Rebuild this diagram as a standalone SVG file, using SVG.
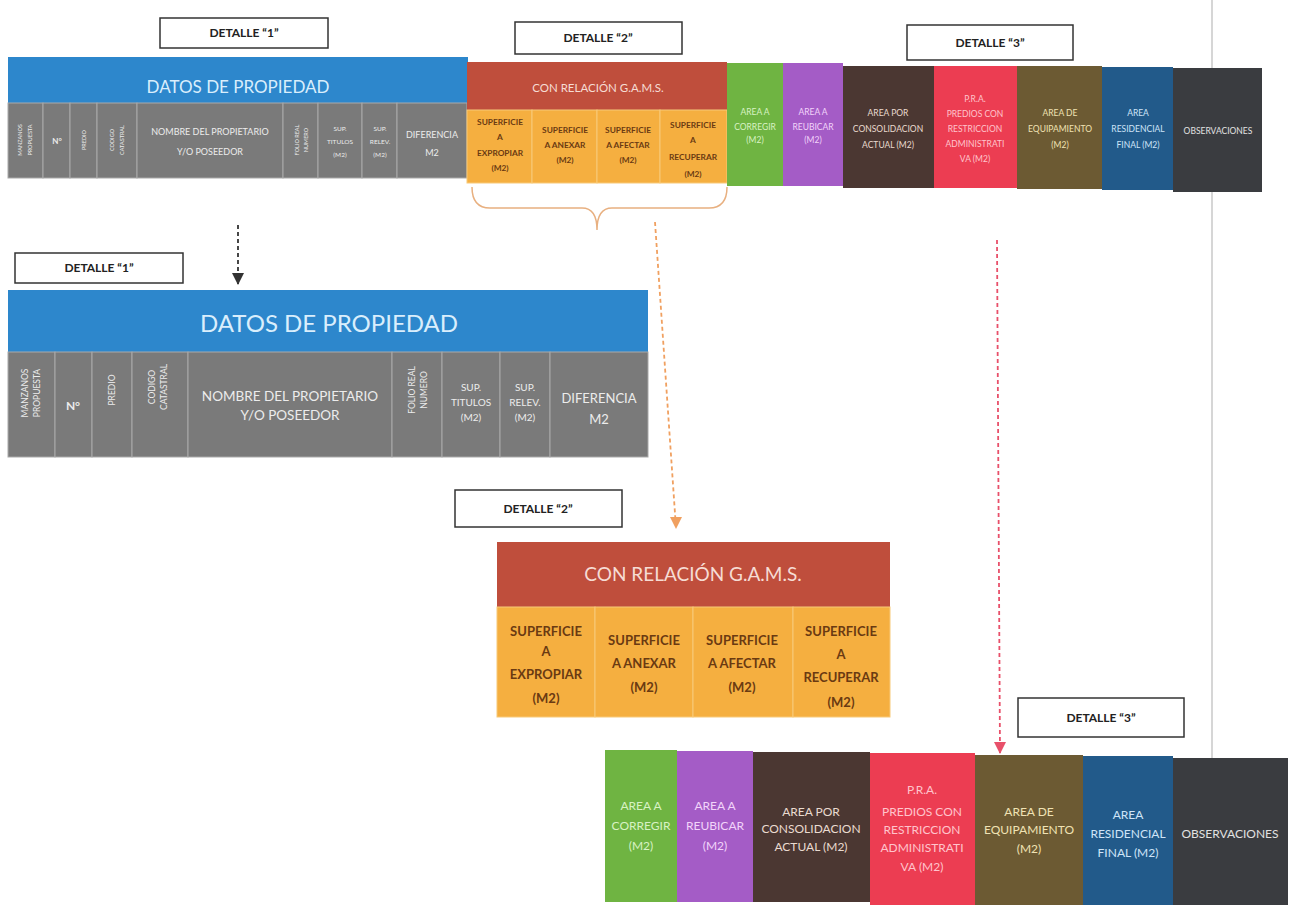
<svg xmlns="http://www.w3.org/2000/svg" width="1298" height="905" viewBox="0 0 1298 905">
<defs>
<style>
text{font-family:Lato,"Open Sans","Liberation Sans",sans-serif;text-anchor:middle}
.lbl{fill:#fff;stroke:#333;stroke-width:1.5}
.lblt{font-size:12px;fill:#222;font-weight:bold}
.blue{fill:#2d87cc}
.gray{fill:#7a7a7a;stroke:#a9a9a9;stroke-width:1}
.red{fill:#bf4e3c}
.org{fill:#f5af40;stroke:#f8c978;stroke-width:1}
.hdr{fill:#d9eefc}
.gt{fill:#ececec}
.ot{fill:#6a3a12;font-weight:bold}
.rt{fill:#f6dcd4}
</style>
<marker id="mk" markerWidth="12" markerHeight="12" refX="6" refY="11" markerUnits="userSpaceOnUse" viewBox="0 0 12 12"><path d="M0,0 L12,0 L6,12 Z" fill="#333"/></marker>
<marker id="mo" markerWidth="12" markerHeight="12" refX="6" refY="11" markerUnits="userSpaceOnUse" viewBox="0 0 12 12"><path d="M0,0 L12,0 L6,12 Z" fill="#f0a060"/></marker>
<marker id="mr" markerWidth="12" markerHeight="12" refX="6" refY="11" markerUnits="userSpaceOnUse" viewBox="0 0 12 12"><path d="M0,0 L12,0 L6,12 Z" fill="#e8506a"/></marker>
</defs>
<rect width="1298" height="905" fill="#fff"/>
<line x1="1212" y1="0" x2="1212" y2="905" stroke="#c8c8c8" stroke-width="1.5"/>

<!-- Labels -->
<g id="label-detalle1-top"><rect class="lbl" x="160" y="18" width="168" height="30"/><text class="lblt" x="244" y="37">DETALLE “1”</text></g>
<g id="label-detalle2-top"><rect class="lbl" x="515" y="22" width="167" height="32"/><text class="lblt" x="598" y="42">DETALLE “2”</text></g>
<g id="label-detalle3-top"><rect class="lbl" x="907" y="25" width="166" height="35"/><text class="lblt" x="990" y="47">DETALLE “3”</text></g>

<!-- Top table: Datos de propiedad -->
<g id="top-datos">
<rect class="blue" x="8" y="57" width="460" height="46"/>
<text class="hdr" x="238" y="93" font-size="17">DATOS DE PROPIEDAD</text>
<rect class="gray" x="8" y="103" width="35" height="75"/>
<rect class="gray" x="43" y="103" width="27" height="75"/>
<rect class="gray" x="70" y="103" width="27" height="75"/>
<rect class="gray" x="97" y="103" width="40" height="75"/>
<rect class="gray" x="137" y="103" width="146" height="75"/>
<rect class="gray" x="283" y="103" width="35" height="75"/>
<rect class="gray" x="318" y="103" width="44" height="75"/>
<rect class="gray" x="362" y="103" width="35" height="75"/>
<rect class="gray" x="397" y="103" width="70" height="75"/>
<g class="gt" font-size="5.5">
<text transform="rotate(-90 20 140)" x="20" y="142">MANZANOS</text>
<text transform="rotate(-90 30 140)" x="30" y="142">PROPUESTA</text>
<text transform="rotate(-90 84 140)" x="84" y="142">PREDIO</text>
<text transform="rotate(-90 112 140)" x="112" y="142">CODIGO</text>
<text transform="rotate(-90 122 140)" x="122" y="142">CATASTRAL</text>
<text transform="rotate(-90 297 140)" x="297" y="142">FOLIO REAL</text>
<text transform="rotate(-90 306 140)" x="306" y="142">NUMERO</text>
</g>
<text class="gt" x="57" y="144" font-size="8" font-weight="bold">N°</text>
<text class="gt" x="210" y="135" font-size="9">NOMBRE DEL PROPIETARIO</text>
<text class="gt" x="210" y="155" font-size="9">Y/O POSEEDOR</text>
<text class="gt" x="340" y="131" font-size="6.5">SUP.</text>
<text class="gt" x="340" y="144" font-size="6.5">TITULOS</text>
<text class="gt" x="340" y="157" font-size="6.5">(M2)</text>
<text class="gt" x="380" y="131" font-size="6.5">SUP.</text>
<text class="gt" x="380" y="144" font-size="6.5">RELEV.</text>
<text class="gt" x="380" y="157" font-size="6.5">(M2)</text>
<text class="gt" x="432" y="138" font-size="9">DIFERENCIA</text>
<text class="gt" x="432" y="156" font-size="9">M2</text>
</g>

<!-- Top table: Con relacion GAMS -->
<g id="top-gams">
<rect class="red" x="467" y="62" width="260" height="48"/>
<text class="rt" x="598" y="92" font-size="11.5">CON RELACIÓN G.A.M.S.</text>
<rect class="org" x="467" y="110" width="65" height="73"/>
<rect class="org" x="532" y="110" width="65" height="73"/>
<rect class="org" x="597" y="110" width="63" height="73"/>
<rect class="org" x="660" y="110" width="67" height="73"/>
<g class="ot" font-size="8.3">
<text x="500" y="125">SUPERFICIE</text><text x="500" y="140">A</text><text x="500" y="156">EXPROPIAR</text><text x="500" y="171">(M2)</text>
<text x="565" y="133">SUPERFICIE</text><text x="565" y="148">A ANEXAR</text><text x="565" y="163">(M2)</text>
<text x="628" y="133">SUPERFICIE</text><text x="628" y="148">A AFECTAR</text><text x="628" y="163">(M2)</text>
<text x="693" y="128">SUPERFICIE</text><text x="693" y="143">A</text><text x="693" y="160">RECUPERAR</text><text x="693" y="177">(M2)</text>
</g>
</g>

<!-- Top table: remaining columns -->
<g id="top-areas" font-size="8.5">
<rect x="727" y="63" width="56" height="123" fill="#6fb442"/>
<text x="755" y="115" fill="#d8f2c4">AREA A</text><text x="755" y="130" fill="#d8f2c4">CORREGIR</text><text x="755" y="143" fill="#d8f2c4">(M2)</text>
<rect x="783" y="63" width="60" height="123" fill="#a45cc6"/>
<text x="813" y="115" fill="#f2d4fa">AREA A</text><text x="813" y="130" fill="#f2d4fa">REUBICAR</text><text x="813" y="143" fill="#f2d4fa">(M2)</text>
<rect x="843" y="66" width="91" height="122" fill="#4b3732"/>
<text x="888" y="116" fill="#eadbd0">AREA POR</text><text x="888" y="132" fill="#eadbd0">CONSOLIDACION</text><text x="888" y="148" fill="#eadbd0">ACTUAL (M2)</text>
<rect x="934" y="66" width="83" height="122" fill="#ec3d52"/>
<text x="975" y="102" fill="#ffc4cc">P.R.A.</text><text x="975" y="117" fill="#ffc4cc">PREDIOS CON</text><text x="975" y="132" fill="#ffc4cc">RESTRICCION</text><text x="975" y="147" fill="#ffc4cc">ADMINISTRATI</text><text x="975" y="162" fill="#ffc4cc">VA (M2)</text>
<rect x="1017" y="66" width="85" height="123" fill="#6c5a33"/>
<text x="1060" y="116" fill="#f0e2b4">AREA DE</text><text x="1060" y="132" fill="#f0e2b4">EQUIPAMIENTO</text><text x="1060" y="148" fill="#f0e2b4">(M2)</text>
<rect x="1102" y="67" width="71" height="123" fill="#225a8a"/>
<text x="1138" y="116" fill="#cfe4f8">AREA</text><text x="1138" y="132" fill="#cfe4f8">RESIDENCIAL</text><text x="1138" y="148" fill="#cfe4f8">FINAL (M2)</text>
<rect x="1173" y="68" width="89" height="124" fill="#3a3c40"/>
<text x="1218" y="134" fill="#e2e2e2">OBSERVACIONES</text>
</g>

<!-- Connectors -->
<g id="connectors" fill="none">
<path d="M472,187 Q472,208 490,208 L582,208 Q597,208 597,230 Q597,208 612,208 L709,208 Q727,208 727,187" stroke="#e8b080" stroke-width="1.5"/>
<line x1="238" y1="225" x2="238" y2="284" stroke="#333" stroke-width="1.8" stroke-dasharray="4,3" marker-end="url(#mk)"/>
<line x1="655" y1="222" x2="676" y2="528" stroke="#f0a060" stroke-width="1.8" stroke-dasharray="4,3" marker-end="url(#mo)"/>
<line x1="997" y1="240" x2="1000" y2="753" stroke="#e8506a" stroke-width="1.8" stroke-dasharray="4,3" marker-end="url(#mr)"/>
</g>

<g id="label-detalle1"><rect class="lbl" x="15" y="253" width="168" height="30"/><text class="lblt" x="99" y="272">DETALLE “1”</text></g>

<!-- Detail 1 -->
<g id="detalle1">
<rect class="blue" x="8" y="290" width="640" height="62"/>
<text class="hdr" x="329" y="332" font-size="24">DATOS DE PROPIEDAD</text>
<rect class="gray" x="8" y="352" width="47" height="105"/>
<rect class="gray" x="55" y="352" width="37" height="105"/>
<rect class="gray" x="92" y="352" width="40" height="105"/>
<rect class="gray" x="132" y="352" width="56" height="105"/>
<rect class="gray" x="188" y="352" width="204" height="105"/>
<rect class="gray" x="392" y="352" width="50" height="105"/>
<rect class="gray" x="442" y="352" width="58" height="105"/>
<rect class="gray" x="500" y="352" width="50" height="105"/>
<rect class="gray" x="550" y="352" width="98" height="105"/>
<g class="gt" font-size="8.5">
<text transform="rotate(-90 25 393)" x="25" y="396">MANZANOS</text>
<text transform="rotate(-90 37 393)" x="37" y="396">PROPUESTA</text>
<text transform="rotate(-90 112 390)" x="112" y="393">PREDIO</text>
<text transform="rotate(-90 152 387)" x="152" y="390">CODIGO</text>
<text transform="rotate(-90 164 387)" x="164" y="390">CATASTRAL</text>
<text transform="rotate(-90 412 390)" x="412" y="393">FOLIO REAL</text>
<text transform="rotate(-90 424 390)" x="424" y="393">NUMERO</text>
</g>
<text class="gt" x="73" y="410" font-size="12" font-weight="bold">N°</text>
<text class="gt" x="290" y="401" font-size="13.5">NOMBRE DEL PROPIETARIO</text>
<text class="gt" x="290" y="420" font-size="13.5">Y/O POSEEDOR</text>
<text class="gt" x="471" y="391" font-size="10">SUP.</text>
<text class="gt" x="471" y="406" font-size="10">TITULOS</text>
<text class="gt" x="471" y="421" font-size="10">(M2)</text>
<text class="gt" x="525" y="391" font-size="10">SUP.</text>
<text class="gt" x="525" y="406" font-size="10">RELEV.</text>
<text class="gt" x="525" y="421" font-size="10">(M2)</text>
<text class="gt" x="599" y="403" font-size="13">DIFERENCIA</text>
<text class="gt" x="599" y="424" font-size="13">M2</text>
</g>

<g id="label-detalle2"><rect class="lbl" x="455" y="490" width="167" height="37"/><text class="lblt" x="538" y="513">DETALLE “2”</text></g>

<!-- Detail 2 -->
<g id="detalle2">
<rect class="red" x="497" y="542" width="393" height="65"/>
<text class="rt" x="693" y="581" font-size="19">CON RELACIÓN G.A.M.S.</text>
<rect class="org" x="497" y="607" width="98" height="110"/>
<rect class="org" x="595" y="607" width="98" height="110"/>
<rect class="org" x="693" y="607" width="100" height="110"/>
<rect class="org" x="793" y="607" width="97" height="110"/>
<g class="ot" font-size="13">
<text x="546" y="636">SUPERFICIE</text><text x="546" y="656">A</text><text x="546" y="679">EXPROPIAR</text><text x="546" y="703">(M2)</text>
<text x="644" y="645">SUPERFICIE</text><text x="644" y="668">A ANEXAR</text><text x="644" y="692">(M2)</text>
<text x="742" y="645">SUPERFICIE</text><text x="742" y="668">A AFECTAR</text><text x="742" y="692">(M2)</text>
<text x="841" y="636">SUPERFICIE</text><text x="841" y="659">A</text><text x="841" y="682">RECUPERAR</text><text x="841" y="707">(M2)</text>
</g>
</g>

<g id="label-detalle3"><rect class="lbl" x="1018" y="698" width="166" height="39"/><text class="lblt" x="1101" y="722">DETALLE “3”</text></g>

<!-- Detail 3 -->
<g id="detalle3" font-size="12">
<rect x="605" y="750" width="72" height="152" fill="#6fb442"/>
<text x="641" y="810" fill="#d8f2c4">AREA A</text><text x="641" y="830" fill="#d8f2c4">CORREGIR</text><text x="641" y="850" fill="#d8f2c4">(M2)</text>
<rect x="677" y="751" width="76" height="151" fill="#a45cc6"/>
<text x="715" y="810" fill="#f2d4fa">AREA A</text><text x="715" y="830" fill="#f2d4fa">REUBICAR</text><text x="715" y="850" fill="#f2d4fa">(M2)</text>
<rect x="753" y="752" width="117" height="150" fill="#4b3732"/>
<text x="811" y="816" fill="#eadbd0">AREA POR</text><text x="811" y="833" fill="#eadbd0">CONSOLIDACION</text><text x="811" y="851" fill="#eadbd0">ACTUAL (M2)</text>
<rect x="870" y="753" width="105" height="152" fill="#ec3d52"/>
<text x="922" y="794" fill="#ffc4cc">P.R.A.</text><text x="922" y="816" fill="#ffc4cc">PREDIOS CON</text><text x="922" y="834" fill="#ffc4cc">RESTRICCION</text><text x="922" y="852" fill="#ffc4cc">ADMINISTRATI</text><text x="922" y="871" fill="#ffc4cc">VA (M2)</text>
<rect x="975" y="755" width="108" height="150" fill="#6c5a33"/>
<text x="1029" y="816" fill="#f0e2b4">AREA DE</text><text x="1029" y="834" fill="#f0e2b4">EQUIPAMIENTO</text><text x="1029" y="853" fill="#f0e2b4">(M2)</text>
<rect x="1083" y="756" width="90" height="149" fill="#225a8a"/>
<text x="1128" y="819" fill="#cfe4f8">AREA</text><text x="1128" y="838" fill="#cfe4f8">RESIDENCIAL</text><text x="1128" y="857" fill="#cfe4f8">FINAL (M2)</text>
<rect x="1173" y="758" width="115" height="147" fill="#3a3c40"/>
<text x="1230" y="838" fill="#e2e2e2">OBSERVACIONES</text>
</g>
</svg>
